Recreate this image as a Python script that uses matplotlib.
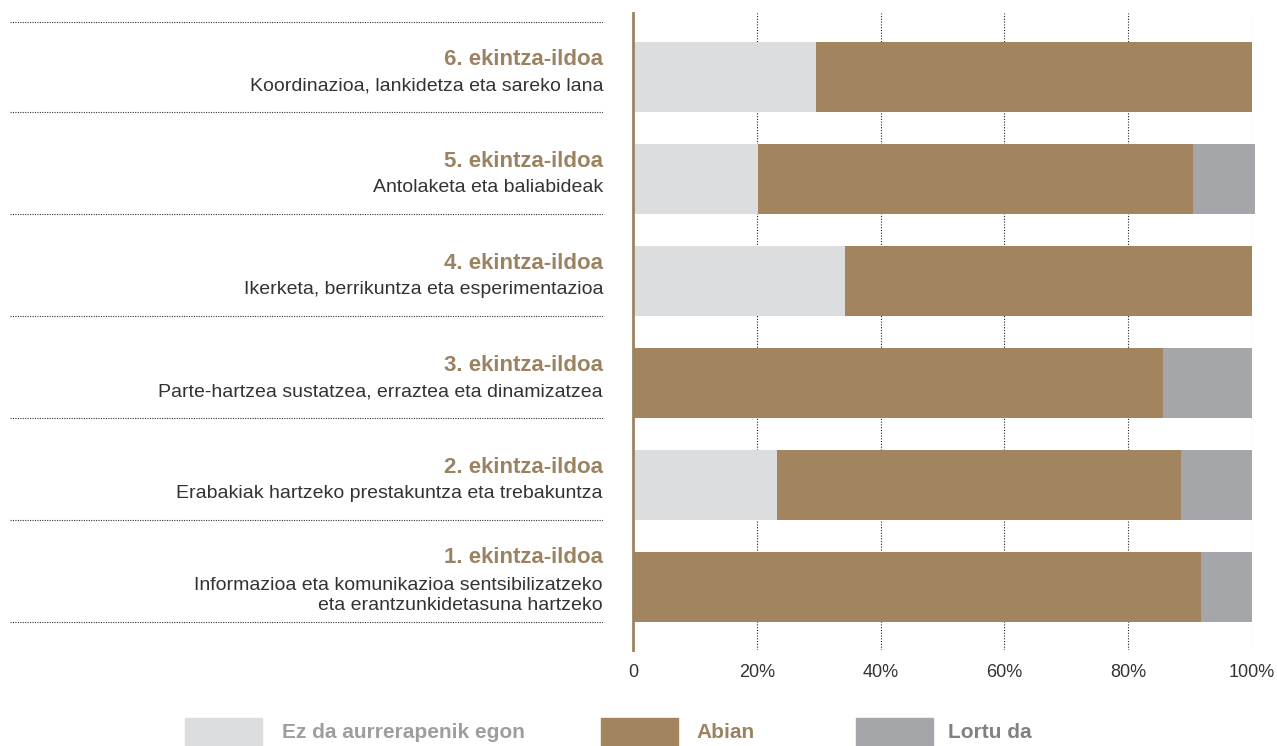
import matplotlib.pyplot as plt
from matplotlib.patches import Rectangle
import numpy as np

plt.rcParams['font.family'] = ['Liberation Sans', 'DejaVu Sans']

# rows from bottom (1) to top (6)
headings = ['1. ekintza-ildoa', '2. ekintza-ildoa', '3. ekintza-ildoa',
            '4. ekintza-ildoa', '5. ekintza-ildoa', '6. ekintza-ildoa']
subtitles = ['Informazioa eta komunikazioa sentsibilizatzeko\neta erantzunkidetasuna hartzeko',
             'Erabakiak hartzeko prestakuntza eta trebakuntza',
             'Parte-hartzea sustatzea, erraztea eta dinamizatzea',
             'Ikerketa, berrikuntza eta esperimentazioa',
             'Antolaketa eta baliabideak',
             'Koordinazioa, lankidetza eta sareko lana']
ez_da = [0, 23.3, 0, 34.2, 20.2, 29.5]
abian = [91.8, 65.3, 85.6, 66.3, 70.2, 70.5]
lortu = [8.2, 11.4, 14.4, 0, 10.1, 0]
series_names = ['Ez da aurrerapenik egon', 'Abian', 'Lortu da']
xticks = [0, 20, 40, 60, 80, 100]
xticklabels = ['0', '20%', '40%', '60%', '80%', '100%']

c_light = '#dcdddf'
c_brown = '#a2845f'
c_dark = '#a5a6a9'
c_head = '#9b8362'
colors = [c_light, c_brown, c_dark]
text_colors = ['#9d9ea1', c_head, '#808184']

W, H = 1277, 746
fig = plt.figure(figsize=(W / 100, H / 100), dpi=100)

bottom = 1 - 650 / H
top = 1 - 13 / H
ax = fig.add_axes([633 / W, bottom, (1252 - 633) / W, top - bottom])
axl = fig.add_axes([10 / W, bottom, (603 - 10) / W, top - bottom], sharey=ax)

y = np.arange(len(headings))
h = 0.686
ez = np.array(ez_da)
ab = np.array(abian)
lo = np.array(lortu)
ax.barh(y, ez, height=h, color=c_light, zorder=2)
ax.barh(y, ab, left=ez, height=h, color=c_brown, zorder=2)
ax.barh(y, lo, left=ez + ab, height=h, color=c_dark, zorder=2, clip_on=False)

ax.set_xlim(0, 100)
ax.set_ylim(-0.618, 5.627)
for t in xticks[1:]:
    ax.axvline(t, color='#222222', lw=0.8, ls=(0, (1, 1.5)), zorder=1)
for s in ['top', 'right', 'bottom']:
    ax.spines[s].set_visible(False)
ax.spines['left'].set_color('#9c8462')
ax.spines['left'].set_linewidth(2)
ax.set_yticks([])
ax.set_xticks(xticks)
ax.set_xticklabels(xticklabels, fontsize=13, color='#333333')
ax.tick_params(axis='x', length=0, pad=10)

# left labels
axl.set_xlim(0, 1)
axl.axis('off')
seps = [5.54] + list(y - h / 2)
for s in seps:
    axl.plot([0, 1], [s, s], color='#333333', lw=0.8, ls=(0, (1, 1.2)))
for i in range(len(headings)):
    nlines = subtitles[i].count('\n') + 1
    axl.text(1, y[i] + 0.17 + 0.118 * (nlines - 1), headings[i], ha='right',
             va='center', fontsize=16, fontweight='bold', color=c_head)
    axl.text(1, y[i] - 0.085, subtitles[i], ha='right', va='center',
             fontsize=14, color='#333333', linespacing=1.2)

# legend
patch_x = [185, 601, 856]
text_x = [282, 696, 948]
for i in range(3):
    fig.patches.append(Rectangle((patch_x[i] / W, 0), 77 / W, 28 / H,
                                 transform=fig.transFigure, color=colors[i]))
    fig.text(text_x[i] / W, 13 / H, series_names[i], ha='left', va='center',
             fontsize=15, fontweight='bold', color=text_colors[i])

fig.savefig('out.png', dpi=100)
